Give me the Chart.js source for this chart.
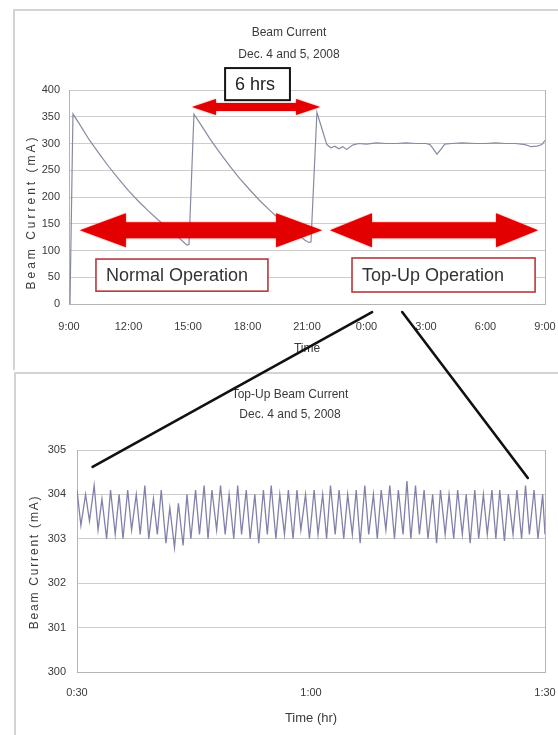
<!DOCTYPE html>
<html>
<head>
<meta charset="utf-8">
<title>Beam Current</title>
<script src="https://cdn.jsdelivr.net/npm/chart.js@4.4.1/dist/chart.umd.min.js"></script>
<style>
  html, body { margin: 0; padding: 0; background: #fff; }
  #wrap { position: relative; width: 558px; height: 735px; overflow: hidden; }
  #wrap canvas { position: absolute; left: 0; }
  #topPanel { top: 0; }
  #bottomPanel { top: 370px; }
  #links { top: 0; pointer-events: none; }
</style>
</head>
<body>
<div id="wrap">
  <canvas id="topPanel" width="558" height="370"></canvas>
  <canvas id="bottomPanel" width="558" height="365"></canvas>
  <canvas id="links" width="558" height="735"></canvas>
</div>
<script>
// ---- Beam current over two days (hours after 9:00, Dec. 4) ----
const beamHours = [
  0.05, 0.2, 0.5, 1.0, 1.5, 2.0, 2.5, 3.0, 3.5, 4.0,
  4.5, 5.0, 5.5, 5.8, 5.95, 6.05, 6.3, 6.6, 7.1, 7.6,
  8.1, 8.6, 9.1, 9.6, 10.1, 10.6, 11.1, 11.6, 11.9, 12.1,
  12.2, 12.5, 12.75, 13.0, 13.2, 13.4, 13.6, 13.8, 14.0, 14.3,
  14.6, 15.0, 15.5, 16.0, 16.5, 17.0, 17.5, 18.0, 18.2, 18.35,
  18.55, 18.75, 18.95, 19.3, 19.8, 20.5, 21.0, 21.5, 22.0, 22.5,
  23.0, 23.3, 23.6, 23.85, 24.0
];
const beamCurrent = [
  0, 355, 338, 308, 282, 257, 234, 212, 192, 174,
  157, 141, 125, 115, 110, 111, 355, 338, 309, 283,
  258, 235, 214, 194, 176, 159, 143, 128, 119, 115,
  116, 358, 328, 298, 292, 295, 290, 294, 289, 297,
  300, 299, 301, 300, 300, 301, 300, 300, 298, 291,
  280, 289, 299, 300, 301, 300, 300, 301, 300, 300,
  298, 294, 295, 298, 306
];
const clockLabels = ['9:00', '12:00', '15:00', '18:00', '21:00', '0:00', '3:00', '6:00', '9:00'];

// ---- Top-up detail (minutes of elapsed time) ----
const topupMinutes = [
  30.0, 30.5, 31.1, 31.6, 32.2, 32.7, 33.2, 33.8, 34.3, 34.9,
  35.4, 35.9, 36.5, 37.0, 37.6, 38.1, 38.7, 39.2, 39.8, 40.3,
  40.8, 41.4, 41.9, 42.5, 43.0, 43.6, 44.1, 44.6, 45.2, 45.7,
  46.3, 46.8, 47.3, 47.9, 48.4, 49.0, 49.5, 50.1, 50.6, 51.1,
  51.7, 52.2, 52.8, 53.3, 53.9, 54.4, 54.9, 55.5, 56.0, 56.6,
  57.1, 57.7, 58.2, 58.7, 59.3, 59.8, 60.4, 60.9, 61.5, 62.0,
  62.5, 63.1, 63.6, 64.2, 64.7, 65.3, 65.8, 66.3, 66.9, 67.4,
  68.0, 68.5, 69.0, 69.6, 70.1, 70.7, 71.2, 71.8, 72.3, 72.8,
  73.4, 73.9, 74.5, 75.0, 75.6, 76.1, 76.6, 77.2, 77.7, 78.3,
  78.8, 79.4, 79.9, 80.4, 81.0, 81.5, 82.1, 82.6, 83.2, 83.7,
  84.2, 84.8, 85.3, 85.9, 86.4, 87.0, 87.5, 88.0, 88.6, 89.1,
  89.7, 90.0
];
const topupCurrent = [
  304.1, 303.3, 304.0, 303.4, 304.2, 303.2, 303.9, 303.0, 304.1, 303.1,
  304.0, 303.0, 304.1, 303.2, 304.0, 303.1, 304.2, 303.0, 303.9, 303.1,
  304.1, 302.9, 303.7, 302.8, 303.8, 302.85, 304.0, 303.0, 304.1, 303.1,
  304.2, 303.0, 304.1, 303.2, 304.2, 303.1, 304.0, 303.0, 304.2, 303.1,
  304.1, 303.0, 304.0, 302.9, 304.1, 303.1, 304.2, 303.0, 304.0, 303.1,
  304.1, 303.0, 304.1, 303.2, 304.0, 303.0, 304.1, 303.1, 304.0, 303.0,
  304.2, 303.1, 304.1, 303.0, 304.0, 303.1, 304.1, 302.9, 304.2, 303.1,
  304.0, 303.0, 304.1, 303.2, 304.2, 303.0, 304.1, 303.1, 304.3, 303.0,
  304.2, 303.1, 304.1, 303.0, 304.0, 302.9, 304.1, 303.1, 304.0, 303.0,
  304.1, 303.1, 304.0, 302.9, 304.1, 303.0, 304.0, 303.1, 304.1, 303.0,
  304.1, 302.95, 304.0, 303.1, 304.1, 303.0, 304.2, 303.1, 304.1, 303.0,
  304.0, 303.1
];
const elapsedLabels = ['0:30', '1:00', '1:30'];

// ---- Styling ----
const SANS = "'Liberation Sans', Arial, sans-serif";
const TEXT = '#3a3a3a';
const GRID = '#cdcdcd';
const EDGE = '#b4b4b4';
const CLEAR = 'rgba(0,0,0,0)';

// Frame, titles and axis titles for each panel
const panelPlugin = {
  id: 'panel',
  beforeDraw(chart, args, o) {
    const c = chart.ctx;
    c.save();
    c.fillStyle = '#ffffff';
    c.fillRect(0, 0, chart.width, chart.height);
    c.strokeStyle = '#d3d3d3';
    c.lineWidth = 2;
    c.beginPath();
    c.moveTo(o.frameX, chart.height);
    c.lineTo(o.frameX, o.frameY);
    c.lineTo(chart.width, o.frameY);
    c.stroke();
    c.restore();
  },
  afterDraw(chart, args, o) {
    const c = chart.ctx, a = chart.chartArea;
    c.save();
    c.fillStyle = TEXT;
    c.textAlign = 'center';
    c.textBaseline = 'middle';
    c.font = '12px ' + SANS;
    o.titles.forEach((t, i) => c.fillText(t, o.titleX, o.titleY[i]));
    c.font = o.xTitleFont + ' ' + SANS;
    c.fillText(o.xTitle, (a.left + a.right) / 2, o.xTitleY);
    c.translate(o.yTitleX, o.yTitleY);
    c.rotate(-Math.PI / 2);
    c.font = '12px ' + SANS;
    c.letterSpacing = o.ySpacing;
    c.fillText(o.yTitle, 0, 0);
    c.restore();
  }
};

// Operation-mode markers drawn in data coordinates of the upper panel
const opBoxes = [
  { text: '6 hrs', x0: 7.87, x1: 11.14, y0: 441, y1: 381, stroke: '#151515', width: 2, color: '#222' },
  { text: 'Normal Operation', x0: 1.36, x1: 10.03, y0: 84, y1: 24, stroke: '#b8383a', width: 1.6, color: '#333' },
  { text: 'Top-Up Operation', x0: 14.27, x1: 23.5, y0: 86, y1: 22.4, stroke: '#b8383a', width: 1.6, color: '#333' }
];
const opArrows = [
  { from: 0.55, to: 12.76, at: 138, head: 46, half: 17, shaft: 8 },
  { from: 13.16, to: 23.65, at: 138, head: 42, half: 17, shaft: 8 },
  { from: 6.2, to: 12.66, at: 368, head: 24, half: 8, shaft: 4 }
];

function doubleArrow(c, x1, x2, y, head, half, shaft) {
  c.beginPath();
  c.moveTo(x1, y);
  c.lineTo(x1 + head, y - half);
  c.lineTo(x1 + head, y - shaft);
  c.lineTo(x2 - head, y - shaft);
  c.lineTo(x2 - head, y - half);
  c.lineTo(x2, y);
  c.lineTo(x2 - head, y + half);
  c.lineTo(x2 - head, y + shaft);
  c.lineTo(x1 + head, y + shaft);
  c.lineTo(x1 + head, y + half);
  c.closePath();
  c.fill();
}

const markerPlugin = {
  id: 'markers',
  afterDatasetsDraw(chart) {
    const c = chart.ctx, sx = chart.scales.x, sy = chart.scales.y;
    c.save();
    opBoxes.forEach(b => {
      const l = sx.getPixelForValue(b.x0), r = sx.getPixelForValue(b.x1);
      const t = sy.getPixelForValue(b.y0), btm = sy.getPixelForValue(b.y1);
      c.fillStyle = '#fff';
      c.fillRect(l, t, r - l, btm - t);
      c.strokeStyle = b.stroke;
      c.lineWidth = b.width;
      c.strokeRect(l, t, r - l, btm - t);
      c.fillStyle = b.color;
      c.font = '18px ' + SANS;
      c.textAlign = 'left';
      c.textBaseline = 'middle';
      c.fillText(b.text, l + 10, (t + btm) / 2 + 1);
    });
    c.fillStyle = '#e30000';
    c.shadowColor = 'rgba(230,0,0,0.55)';
    c.shadowBlur = 2;
    opArrows.forEach(a => {
      doubleArrow(c, sx.getPixelForValue(a.from), sx.getPixelForValue(a.to),
        sy.getPixelForValue(a.at), a.head, a.half, a.shaft);
    });
    c.restore();
  }
};

const tickFont = { family: SANS, size: 11 };

const topChart = new Chart(document.getElementById('topPanel'), {
  type: 'line',
  data: {
    datasets: [{
      data: beamHours.map((h, i) => ({ x: h, y: beamCurrent[i] })),
      borderColor: '#868ba0',
      borderWidth: 1.2,
      pointRadius: 0,
      tension: 0,
      fill: false
    }]
  },
  options: {
    responsive: false,
    animation: false,
    devicePixelRatio: 1,
    layout: { padding: { left: 0, right: 13, top: 90, bottom: 0 } },
    plugins: {
      legend: { display: false },
      tooltip: { enabled: false },
      panel: {
        frameX: 14, frameY: 10,
        titles: ['Beam Current', 'Dec. 4 and 5, 2008'], titleX: 289, titleY: [33, 55],
        xTitle: 'Time', xTitleY: 349, xTitleFont: '12px',
        yTitle: 'Beam Current (mA)', yTitleX: 32, yTitleY: 212, ySpacing: '3px'
      }
    },
    scales: {
      x: {
        type: 'linear', min: 0, max: 24,
        afterFit: s => { s.height = 66; },
        ticks: { stepSize: 3, autoSkip: false, maxRotation: 0, padding: 0, font: tickFont, color: TEXT,
                 callback: (v, i) => clockLabels[i] },
        grid: { drawTicks: true, tickLength: 16, tickColor: CLEAR,
                color: ctx => (ctx.tick && ctx.tick.value === 24) ? EDGE : CLEAR },
        border: { color: EDGE }
      },
      y: {
        min: 0, max: 400,
        afterFit: s => { s.width = 69; },
        ticks: { stepSize: 50, padding: 9, font: tickFont, color: TEXT },
        grid: { drawTicks: false, color: GRID },
        border: { color: EDGE }
      }
    }
  },
  plugins: [panelPlugin, markerPlugin]
});

const bottomChart = new Chart(document.getElementById('bottomPanel'), {
  type: 'line',
  data: {
    datasets: [{
      data: topupMinutes.map((m, i) => ({ x: m, y: topupCurrent[i] })),
      borderColor: '#8181ab',
      borderWidth: 1.3,
      pointRadius: 0,
      tension: 0,
      fill: false
    }]
  },
  options: {
    responsive: false,
    animation: false,
    devicePixelRatio: 1,
    layout: { padding: { left: 0, right: 13, top: 80, bottom: 0 } },
    plugins: {
      legend: { display: false },
      tooltip: { enabled: false },
      panel: {
        frameX: 15, frameY: 3,
        titles: ['Top-Up Beam Current', 'Dec. 4 and 5, 2008'], titleX: 290, titleY: [25, 45],
        xTitle: 'Time (hr)', xTitleY: 348, xTitleFont: '13px',
        yTitle: 'Beam Current (mA)', yTitleX: 35, yTitleY: 192, ySpacing: '1.8px'
      }
    },
    scales: {
      x: {
        type: 'linear', min: 30, max: 90,
        afterFit: s => { s.height = 63; },
        ticks: { stepSize: 30, autoSkip: false, maxRotation: 0, padding: 0, font: tickFont, color: TEXT,
                 callback: (v, i) => elapsedLabels[i] },
        grid: { drawTicks: true, tickLength: 14, tickColor: CLEAR,
                color: ctx => (ctx.tick && ctx.tick.value === 90) ? EDGE : CLEAR },
        border: { color: EDGE }
      },
      y: {
        min: 300, max: 305,
        afterFit: s => { s.width = 77; },
        ticks: { stepSize: 1, padding: 11, font: tickFont, color: TEXT },
        grid: { drawTicks: false, color: GRID },
        border: { color: EDGE }
      }
    }
  },
  plugins: [panelPlugin]
});

// Lines linking the top-up period in the upper panel to the detail panel
const zoomLinks = [
  { fromHour: 15.28, fromCurrent: -15, toMinute: 32.0, toCurrent: 304.62 },
  { fromHour: 16.8, fromCurrent: -15, toMinute: 87.8, toCurrent: 304.37 }
];
const topCanvas = document.getElementById('topPanel');
const bottomCanvas = document.getElementById('bottomPanel');
const lc = document.getElementById('links').getContext('2d');
lc.strokeStyle = '#111';
lc.lineWidth = 2.6;
lc.lineCap = 'round';
zoomLinks.forEach(l => {
  const x1 = topCanvas.offsetLeft + topChart.scales.x.getPixelForValue(l.fromHour);
  const y1 = topCanvas.offsetTop + topChart.scales.y.getPixelForValue(l.fromCurrent);
  const x2 = bottomCanvas.offsetLeft + bottomChart.scales.x.getPixelForValue(l.toMinute);
  const y2 = bottomCanvas.offsetTop + bottomChart.scales.y.getPixelForValue(l.toCurrent);
  lc.beginPath();
  lc.moveTo(x1, y1);
  lc.lineTo(x2, y2);
  lc.stroke();
});
</script>
</body>
</html>
